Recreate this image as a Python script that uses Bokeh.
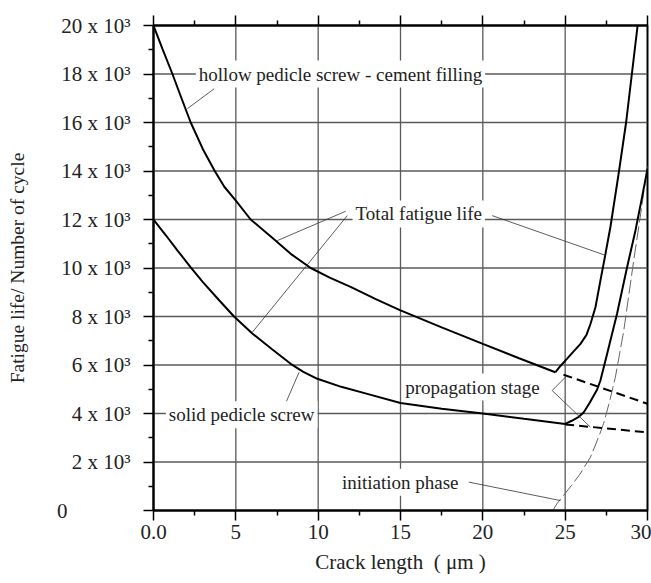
from bokeh.plotting import figure
from bokeh.models import Range1d, FixedTicker, LinearAxis, Label
from bokeh.embed import file_html
from bokeh.resources import INLINE

# ---- data (x: crack length in um, y: fatigue life in 10^3 cycles) ----
hollow_x = [0, 0.55, 1.15, 1.7, 2.26, 3.0, 3.72, 4.3, 5.0, 5.9, 7.3, 8.4, 9.55, 10.7, 12.0,
            13.5, 15.0, 17.5, 20.0, 22.2, 24.4]
hollow_y = [20, 19.03, 18.0, 17.0, 16.0, 14.9, 14.0, 13.35, 12.78, 12.0, 11.2, 10.55, 10.0,
            9.6, 9.21, 8.72, 8.25, 7.55, 6.87, 6.28, 5.7]
hollow_rise_x = [24.4, 24.7, 25.12, 25.5, 25.93, 26.3, 26.54, 26.84, 27.14, 27.45, 27.75,
                 28.25, 28.7, 29.05, 29.4]
hollow_rise_y = [5.7, 5.95, 6.26, 6.55, 6.87, 7.25, 7.7, 8.38, 9.48, 10.59, 11.7, 13.9, 16.0,
                 18.0, 20.0]
hollow_prop_x = [24.9, 30.0]
hollow_prop_y = [5.6, 4.4]

solid_x = [0, 0.75, 1.46, 2.26, 3.0, 4.0, 4.89, 6.0, 7.2, 8.33, 9.1, 9.95, 11.4, 12.98,
           15.0, 17.5, 20.0, 22.5, 25.0]
solid_y = [12, 11.35, 10.72, 10.03, 9.42, 8.66, 8.0, 7.3, 6.65, 6.05, 5.72, 5.43, 5.1, 4.81,
           4.43, 4.2, 4.0, 3.78, 3.57]
solid_rise_x = [25.0, 25.4, 25.8, 26.13, 26.5, 26.95, 27.14, 27.55, 28.15, 28.76, 29.27,
                29.65, 30.0]
solid_rise_y = [3.57, 3.7, 3.85, 4.05, 4.45, 5.0, 5.36, 6.46, 8.11, 10.03, 11.55, 12.85, 14.1]
solid_prop_x = [25.0, 30.0]
solid_prop_y = [3.55, 3.22]

init_x = [24.25, 24.5, 24.9, 25.4, 25.9, 26.54, 27.1, 27.34, 27.7, 28.05, 28.56, 29.16,
          29.6, 30.0]
init_y = [0, 0.28, 0.62, 1.05, 1.5, 2.2, 3.15, 3.6, 4.5, 5.5, 7.42, 10.3, 12.3, 14.2]

x_ticks = [0, 5, 10, 15, 20, 25, 30]
x_tick_labels = ["0.0", "5", "10", "15", "20", "25", "30"]
y_ticks = [0, 2, 4, 6, 8, 10, 12, 14, 16, 18, 20]
y_tick_labels = ["0" + "\u2007" * 6] + ["%d x 10\u00b3" % v for v in y_ticks[1:]]

leader_xs = [[3.68, 2.06], [11.67, 7.52], [11.77, 6.0], [20.57, 27.45],
             [8.03, 8.84], [24.21, 25.02], [24.21, 26.53], [19.15, 24.71]]
leader_ys = [[17.39, 16.57], [12.34, 11.13], [12.16, 7.35], [12.16, 10.52],
             [4.43, 5.70], [4.95, 5.50], [4.95, 3.44], [1.17, 0.41]]

FONT = "Liberation Serif"
minor_x = [2.5, 7.5, 12.5, 17.5, 22.5, 27.5]
X0, X1 = x_ticks[0], x_ticks[-1]
Y0, Y1 = y_ticks[0], y_ticks[-1]

p = figure(width=651, height=583, x_range=Range1d(X0, X1), y_range=Range1d(Y0, Y1),
           output_backend="svg", toolbar_location=None,
           min_border_left=153, min_border_right=4, min_border_top=25, min_border_bottom=73)
p.background_fill_color = "white"
p.border_fill_color = "white"
p.outline_line_color = "black"
p.outline_line_width = 2

# axes
xa = p.xaxis[0]
xa.ticker = FixedTicker(ticks=x_ticks, minor_ticks=minor_x)
xa.major_label_overrides = dict(zip(x_ticks, x_tick_labels))
ya = p.yaxis[0]
ya.ticker = FixedTicker(ticks=y_ticks, minor_ticks=list(range(1, 20, 2)))
ya.major_label_overrides = dict(zip(y_ticks, y_tick_labels))
for ax in (xa, ya):
    ax.axis_line_width = 2
    ax.axis_line_color = "black"
    ax.major_tick_in = 0
    ax.major_tick_out = 10
    ax.minor_tick_in = 0
    ax.minor_tick_out = 5
    ax.major_tick_line_width = 1.5
    ax.minor_tick_line_width = 1.5
    ax.major_label_text_font = FONT
    ax.major_label_text_font_size = "21px"
    ax.major_label_text_color = "#222222"
    ax.axis_label_text_font = FONT
    ax.axis_label_text_font_style = "normal"
    ax.axis_label_text_color = "#222222"
xa.major_label_standoff = 4
xa.axis_label = "Crack length\u00a0 ( \u03bcm )"
xa.axis_label_text_font_size = "21px"
xa.axis_label_standoff = 8
ya.major_label_standoff = 13
ya.axis_label = "Fatigue life/ Number of cycle"
ya.axis_label_text_font_size = "19.5px"
ya.axis_label_standoff = 26

top = LinearAxis(ticker=FixedTicker(ticks=x_ticks, minor_ticks=minor_x),
                 major_label_text_font_size="1px", major_label_text_color=None,
                 major_label_standoff=0, axis_line_width=2, major_tick_in=0, major_tick_out=10,
                 minor_tick_in=0, minor_tick_out=5, major_tick_line_width=1.5,
                 minor_tick_line_width=1.5)
p.add_layout(top, "above")

# grid lines drawn at the inner tick positions
p.xgrid.visible = False
p.ygrid.visible = False
gx = x_ticks[1:-1]
gy = y_ticks[1:-1]
p.segment(x0=gx, y0=[Y0] * len(gx), x1=gx, y1=[Y1] * len(gx),
          line_color="#5a5a5a", line_width=1.3)
p.segment(x0=[X0] * len(gy), y0=gy, x1=[X1] * len(gy), y1=gy,
          line_color="#5a5a5a", line_width=1.3)

# curves
p.line(init_x, init_y, line_color="#666666", line_width=1, line_dash="14 4")
p.line(hollow_x, hollow_y, line_color="black", line_width=2)
p.line(hollow_rise_x, hollow_rise_y, line_color="black", line_width=2)
p.line(hollow_prop_x, hollow_prop_y, line_color="black", line_width=2, line_dash="9 5")
p.line(solid_x, solid_y, line_color="black", line_width=2)
p.line(solid_rise_x, solid_rise_y, line_color="black", line_width=2)
p.line(solid_prop_x, solid_prop_y, line_color="black", line_width=2, line_dash="9 5")

# leader lines
p.multi_line(leader_xs, leader_ys, line_color="#333333", line_width=0.8)

# annotations
def note(text, x, y):
    p.add_layout(Label(x=x, y=y, text=text, text_font=FONT, text_font_size="19px",
                       text_color="#222222", text_baseline="middle", text_align="left",
                       background_fill_color="white", padding=3))

note("hollow pedicle screw - cement filling", 2.57, 18.0)
note("Total fatigue life", 12.09, 12.23)
note("solid pedicle screw", 0.75, 3.95)
note("propagation stage", 15.1, 5.09)
note("initiation phase", 11.26, 1.17)

open("out.html", "w").write(file_html(p, INLINE))
